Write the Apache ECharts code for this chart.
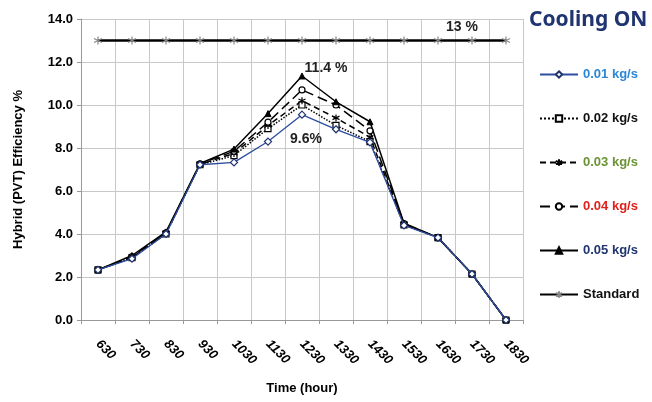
<!DOCTYPE html>
<html><head><meta charset="utf-8">
<script src="https://cdn.jsdelivr.net/npm/echarts@6/dist/echarts.min.js"></script>
<style>html,body{margin:0;padding:0;background:#fff}#c{width:652px;height:402px}</style>
</head><body><div id="c"></div>
<script>
const categories = ['630','730','830','930','1030','1130','1230','1330','1430','1530','1630','1730','1830'];
const s001 = [2.33, 2.85, 4.0, 7.22, 7.33, 8.3, 9.55, 8.87, 8.26, 4.4, 3.83, 2.14, 0.0];
const s002 = [2.33, 2.9, 4.0, 7.22, 7.65, 8.9, 10.0, 9.05, 8.3, 4.42, 3.83, 2.14, 0.0];
const s003 = [2.33, 2.9, 4.05, 7.24, 7.75, 9.05, 10.2, 9.4, 8.5, 4.45, 3.83, 2.14, 0.0];
const s004 = [2.33, 2.95, 4.05, 7.26, 7.85, 9.2, 10.7, 10.0, 8.8, 4.48, 3.83, 2.14, 0.0];
const s005 = [2.33, 3.0, 4.1, 7.28, 7.95, 9.6, 11.35, 10.15, 9.22, 4.5, 3.83, 2.14, 0.0];
const standard = [13,13,13,13,13,13,13,13,13,13,13,13,13];
const yTicks = [0,2,4,6,8,10,12,14];

const star = 'path://M0,-10L0,10M-8.66,-5L8.66,5M-8.66,5L8.66,-5';
const chart = echarts.init(document.getElementById('c'));
const lbl = {fontFamily:'Liberation Sans, Arial', fontWeight:'bold', fontSize:13};
function ser(name, data, opts){
  return Object.assign({name, type:'line', data, symbolSize:6, showSymbol:true,
    itemStyle:{color:'#fff', borderColor:'#000', borderWidth:1.2},
    lineStyle:{color:'#000', width:1.5}, z:3}, opts);
}
chart.setOption({
  animation:false,
  textStyle:{fontFamily:'Liberation Sans, Arial'},
  grid:{left:81, right:129, top:19, bottom:82},
  title:{text:'Cooling ON', left:524, top:5,
    textStyle:{fontFamily:'Noto Sans', fontWeight:'bold', fontSize:21, color:'#1f3470'}},
  legend:{orient:'vertical', left:534, top:63, itemWidth:38, itemHeight:8, itemGap:31,
    textStyle:{fontFamily:'Liberation Sans, Arial', fontWeight:'bold', fontSize:13, color:'#000'},
    data:[
      {name:'0.01 kg/s', textStyle:{color:'#2a86d6'}},
      {name:'0.02 kg/s', textStyle:{color:'#111'}},
      {name:'0.03 kg/s', textStyle:{color:'#6b9233'}},
      {name:'0.04 kg/s', textStyle:{color:'#e0201b'}},
      {name:'0.05 kg/s', textStyle:{color:'#1f3470'}},
      {name:'Standard', textStyle:{color:'#111'}}
    ]},
  xAxis:{type:'category', data:categories, boundaryGap:true,
    name:'Time (hour)', nameLocation:'middle', nameGap:62,
    nameTextStyle:Object.assign({}, lbl, {fontSize:13, color:'#000'}),
    axisLine:{lineStyle:{color:'#999'}},
    axisTick:{show:true, length:4, lineStyle:{color:'#999'}},
    axisLabel:Object.assign({}, lbl, {rotate:-45, fontStyle:'italic', color:'#000', margin:22, interval:0}),
    splitLine:{show:true, lineStyle:{color:'#c8c8c8', width:1}}},
  yAxis:{type:'value', min:0, max:14, interval:2,
    name:'Hybrid (PVT) Efficiency %', nameLocation:'middle', nameGap:56,
    nameTextStyle:Object.assign({}, lbl, {fontSize:13, color:'#000'}),
    axisLine:{show:true, lineStyle:{color:'#999'}},
    axisTick:{show:true, length:4, lineStyle:{color:'#999'}},
    axisLabel:Object.assign({}, lbl, {color:'#000', formatter:v=>v.toFixed(1)}),
    splitLine:{show:true, lineStyle:{color:'#c8c8c8', width:1}}},
  series:[
    ser('0.01 kg/s', s001, {symbol:'diamond', symbolSize:7, itemStyle:{color:'#fff', borderColor:'#1f3470', borderWidth:1.2}, lineStyle:{color:'#2f4d9e', width:1.3}, z:6,
      markPoint:{symbol:'circle', symbolSize:0, data:[{coord:['1230', 9.55], label:{show:true, formatter:'9.6%', offset:[4,24], color:'#222', fontWeight:'bold', fontSize:14}}]}}),
    ser('0.02 kg/s', s002, {symbol:'rect', symbolSize:6, lineStyle:{color:'#000', width:1.5, type:'dotted'}}),
    ser('0.03 kg/s', s003, {symbol:star, symbolSize:7, lineStyle:{color:'#000', width:1.5, type:[6,4]}}),
    ser('0.04 kg/s', s004, {symbol:'circle', symbolSize:6, lineStyle:{color:'#000', width:1.5, type:[10,5]}}),
    ser('0.05 kg/s', s005, {symbol:'triangle', symbolSize:6, itemStyle:{color:'#000', borderColor:'#000', borderWidth:1}, lineStyle:{color:'#000', width:1.5},
      markPoint:{symbol:'circle', symbolSize:0, data:[{coord:['1230', 11.35], label:{show:true, formatter:'11.4 %', offset:[24,-8], color:'#222', fontWeight:'bold', fontSize:14}}]}}),
    ser('Standard', standard, {symbol:star, symbolSize:8, itemStyle:{color:'#fff', borderColor:'#888', borderWidth:1.2}, lineStyle:{color:'#000', width:2.5}, z:2,
      markPoint:{symbol:'circle', symbolSize:0, data:[{coord:['1730', 13], label:{show:true, formatter:'13 %', offset:[-10,-13], color:'#222', fontWeight:'bold', fontSize:14}}]}})
  ]
});
</script></body></html>
